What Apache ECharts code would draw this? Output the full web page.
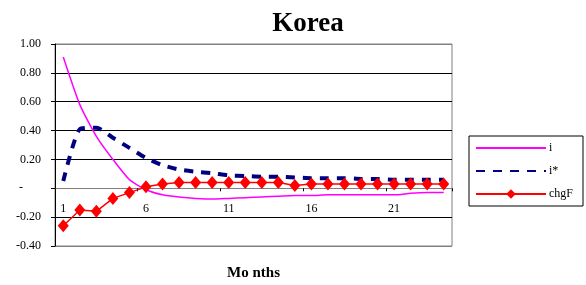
<!DOCTYPE html>
<html>
<head>
<meta charset="utf-8">
<script src="https://cdn.jsdelivr.net/npm/echarts@6/dist/echarts.min.js"></script>
<style>
  html, body { margin: 0; padding: 0; background: #fff; }
  #chart { width: 586px; height: 285px; }
</style>
</head>
<body>
<div id="chart"></div>
<script>
'use strict';

var months = [];
for (var m = 1; m <= 24; m++) { months.push(String(m)); }

var iValues = [0.91, 0.58, 0.36, 0.20, 0.06, -0.01, -0.045, -0.06, -0.07, -0.075, -0.07, -0.065,
    -0.06, -0.055, -0.05, -0.05, -0.045, -0.045, -0.045, -0.045, -0.045, -0.035, -0.03, -0.03];
var iStarValues = [0.05, 0.41, 0.42, 0.35, 0.28, 0.21, 0.16, 0.13, 0.115, 0.105, 0.09, 0.085,
    0.08, 0.08, 0.075, 0.07, 0.07, 0.07, 0.065, 0.065, 0.06, 0.06, 0.06, 0.06];
var chgFValues = [-0.26, -0.15, -0.16, -0.07, -0.03, 0.01, 0.03, 0.04, 0.04, 0.04, 0.04, 0.04,
    0.04, 0.04, 0.02, 0.03, 0.03, 0.03, 0.03, 0.03, 0.03, 0.03, 0.03, 0.03];

var font = 'Liberation Serif';
var yMin = -0.4, yMax = 1.0;
var gridTop = 44, gridBottom = 39, chartHeight = 285;
// the category axis sits on the zero line
var plotH = chartHeight - gridTop - gridBottom;
var zeroOffset = -plotH * (0 - yMin) / (yMax - yMin);

var chart = echarts.init(document.getElementById('chart'), null, { renderer: 'canvas' });

chart.setOption({
    backgroundColor: '#fff',
    animation: false,
    title: {
        text: 'Korea',
        left: 303,
        top: 6,
        textAlign: 'center',
        textStyle: { fontFamily: font, fontSize: 27, fontWeight: 'bold', color: '#000' }
    },
    grid: {
        left: 55, right: 134, top: gridTop, bottom: gridBottom,
        containLabel: false,
        outerBoundsMode: 'none',
        show: true, borderColor: '#808080', borderWidth: 1
    },
    legend: {
        orient: 'vertical',
        left: 469, top: 136,
        width: 115, height: 71,
        padding: [6, 10, 6, 6],
        itemWidth: 70, itemHeight: 12, itemGap: 11,
        borderColor: '#000', borderWidth: 1,
        textStyle: { fontFamily: font, fontSize: 12, color: '#000', padding: [0, 0, 0, -2] },
        data: [
            { name: 'i', itemStyle: { opacity: 0 } },
            { name: 'i*', itemStyle: { opacity: 0 } },
            { name: 'chgF' }
        ]
    },
    xAxis: {
        type: 'category',
        data: months,
        boundaryGap: true,
        position: 'bottom',
        offset: zeroOffset,
        name: 'Mo nths',
        nameLocation: 'middle',
        nameGap: 77,
        nameTextStyle: { fontFamily: font, fontSize: 15, fontWeight: 'bold', color: '#000' },
        axisLine: { onZero: false, lineStyle: { color: '#808080', width: 1 } },
        axisTick: { show: true, interval: 4, length: 3, lineStyle: { color: '#000' } },
        axisLabel: { interval: 4, margin: 15, fontFamily: font, fontSize: 12, color: '#000' },
        splitLine: { show: false }
    },
    yAxis: {
        type: 'value',
        min: yMin,
        max: yMax,
        interval: 0.2,
        axisLine: { show: true, lineStyle: { color: '#000', width: 1 } },
        axisTick: { show: true, length: 4, lineStyle: { color: '#000' } },
        axisLabel: {
            margin: 14, fontFamily: font, fontSize: 12, color: '#000',
            formatter: function(v) {
                if (Math.abs(v) < 1e-9) { return '-      '; }
                return v.toFixed(2);
            }
        },
        splitLine: {
            show: true,
            lineStyle: { color: ['#808080', '#000', '#000', '#000', '#000', '#000', '#000', '#808080'], width: 1 }
        }
    },
    series: [
        {
            name: 'i',
            type: 'line',
            data: iValues,
            symbol: 'none',
            smooth: 0.2,
            lineStyle: { color: '#ff00ff', width: 1.5 },
            itemStyle: { color: '#ff00ff' },
            z: 2
        },
        {
            name: 'i*',
            type: 'line',
            data: iStarValues,
            symbol: 'none',
            smooth: 0.2,
            lineStyle: { color: '#000080', width: 4, type: [9, 8] },
            itemStyle: { color: '#000080' },
            z: 3
        },
        {
            name: 'chgF',
            type: 'line',
            data: chgFValues,
            symbol: 'diamond',
            symbolSize: [11, 13],
            showAllSymbol: true,
            lineStyle: { color: '#ff0000', width: 1.5 },
            itemStyle: { color: '#ff0000' },
            z: 4
        }
    ]
});
</script>
</body>
</html>
